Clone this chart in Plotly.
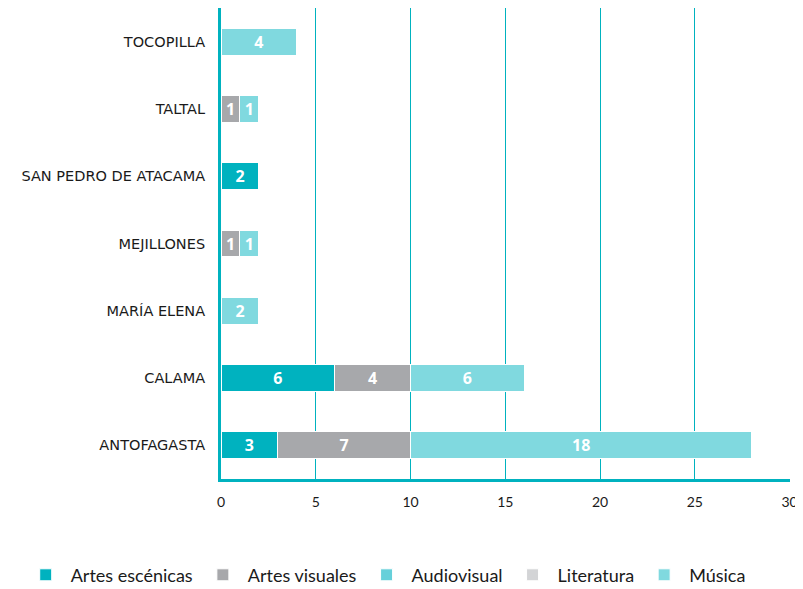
import plotly.graph_objects as go

comunas = ["ANTOFAGASTA", "CALAMA", "MARÍA ELENA", "MEJILLONES",
           "SAN PEDRO DE ATACAMA", "TALTAL", "TOCOPILLA"]

artes_escenicas = [3, 6, None, None, 2, None, None]
artes_visuales = [7, 4, None, 1, None, 1, None]
audiovisual = [None, None, None, None, None, None, None]
literatura = [None, None, None, None, None, None, None]
musica = [18, 6, 2, 1, None, 1, 4]

series = [
    ("Artes escénicas", artes_escenicas, "#00b2bf"),
    ("Artes visuales", artes_visuales, "#a7a8ab"),
    ("Audiovisual", audiovisual, "#66d0da"),
    ("Literatura", literatura, "#d3d4d6"),
    ("Música", musica, "#80d9df"),
]

teal = "#00b2bf"

fig = go.Figure()
for name, vals, col in series:
    fig.add_trace(go.Bar(
        y=comunas, x=vals, name=name, orientation="h",
        marker=dict(color=col, line=dict(color="white", width=1)),
        text=[str(v) if v else "" for v in vals],
        textposition="inside", insidetextanchor="middle", textangle=0,
        constraintext="none",
        textfont=dict(color="white", size=16, family="Open Sans", weight="bold"),
        width=0.4,
    ))

fig.update_layout(
    barmode="stack",
    width=803, height=589,
    margin=dict(l=213, r=21, t=0, b=118),
    plot_bgcolor="white", paper_bgcolor="white",
    font=dict(family="DejaVu Sans", color="#1a1a1a"),
    legend=dict(orientation="h", x=-0.352, xanchor="left",
                y=-0.204, yanchor="middle",
                font=dict(size=18, family="Lato", color="#1a1a1a"),
                itemwidth=40, traceorder="normal"),
)
fig.update_xaxes(range=[0, 30.02], dtick=5, showgrid=True, gridcolor=teal,
                 gridwidth=1, showline=True, linecolor=teal, linewidth=3,
                 zeroline=False, ticks="", ticklabelstandoff=8,
                 tickfont=dict(size=14, family="Lato"))
fig.update_yaxes(showgrid=False, showline=True, linecolor=teal, linewidth=3,
                 ticks="", tickfont=dict(size=14.5), ticklabelstandoff=10)

fig.write_html("out.html")
